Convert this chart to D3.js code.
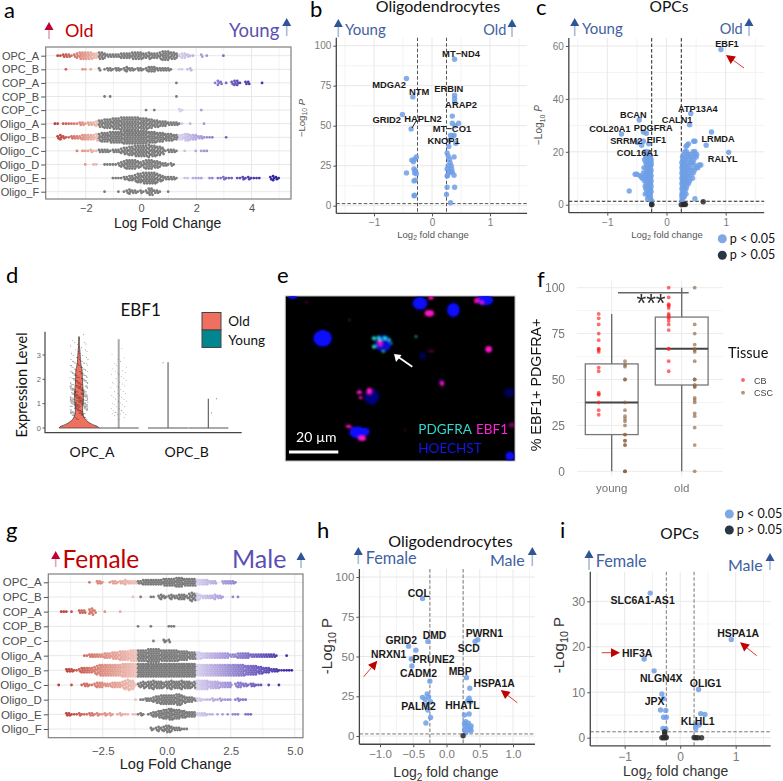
<!DOCTYPE html>
<html><head><meta charset="utf-8">
<script src="https://cdnjs.cloudflare.com/ajax/libs/d3/7.8.5/d3.min.js"></script>
<style>html,body{margin:0;background:#fff}svg{display:block}text{font-family:"Liberation Sans",Arial,sans-serif}</style>
</head><body><div id="c"></div>
<script>
/* ---------- categories ---------- */
const rows=["OPC_A","OPC_B","COP_A","COP_B","COP_C","Oligo_A","Oligo_B","Oligo_C","Oligo_D","Oligo_E","Oligo_F"];

/* ---------- panel a: swarm counts per 0.1 log-fold-change bin, from = first bin ---------- */
const aFrom=[-3.0,-2.7,1.3,-1.3,0.2,-3.1,-3.0,-2.3,-2.0,-1.0,-1.3];
const aOPC_A=[1,1,2,2,2,1,2,3,4,4,4,4,4,3,3,4,4,3,2,2,2,2,2,3,3,3,3,4,4,4,4,3,3,4,3,3,3,4,5,5,5,4,4,3,2,3,3,2,1,1,0,0,2,0,1,0,0,0,0,0,1];
const aOPC_B=[1,0,0,0,0,0,1,1,0,1,0,0,2,0,1,2,2,1,2,2,1,2,3,2,2,1,2,2,1,2,3,3,3,2,2,2,2,2,1,0,0,1,1,0,1,2];
const aCOP_A=[1,0,0,0,0,0,0,0,0,0,0,0,0,0,1,3,2,0,1,0,2,3,3,1,0,2,2,0,0,0,0,1];
const aCOP_B=[1,0,1,0,0,0,0,0,0,0,0,0,0,0,0,0,0,0,0,0,0,0,0,0,0,0,1];
const aCOP_C=[1,0,0,1,0,0,0,0,0,0,0,0,2,1,0,0,0,0,0,0,1];
const aOligo_A=[1,1,0,1,1,1,1,1,1,2,2,1,2,2,2,3,4,4,5,5,5,6,6,6,7,7,7,7,7,7,7,6,6,6,5,5,4,4,3,3,3,2,2,2,2,1,1,0,0,1,0,0,0,0,1];
const aOligo_B=[2,3,2,1,1,2,2,2,2,3,3,3,3,3,4,4,5,5,5,6,6,6,6,6,7,7,7,7,7,7,7,7,7,6,6,6,5,5,5,4,4,4,3,3,3,3,4,4,3,3,3,2,2,1,1,1,1,0,0,0,0,1];
const aOligo_C=[1,0,1,1,1,2,1,1,2,2,2,2,1,2,2,2,3,4,4,5,5,6,6,6,6,6,7,6,6,5,5,4,1,2,2,2,1,0,0,1,0,0,0,1,0,1,1,1];
const aOligo_D=[1,0,0,1,1,0,0,1,1,1,1,1,2,3,4,5,5,5,5,4,3,4,5,5,5,4,4,3,2,2,1,2,1];
const aOligo_E=[1,1,1,1,2,2,3,3,4,5,5,6,6,6,6,6,5,4,3,2,2,2,2,1,0,0,1,1,0,1,1,1,1,0,0,1,1,0,1,1,2,1,1,1,0,1,1,2,1,2,1,1,1,1,0,0,0,2,3,2,1];
const aOligo_F=[1,0,0,0,0,1,0,1,2,3,2,2,1,2,1,2,4,4,2,2,1,0,0,1];
const aRows=[aOPC_A,aOPC_B,aCOP_A,aCOP_B,aCOP_C,aOligo_A,aOligo_B,aOligo_C,aOligo_D,aOligo_E,aOligo_F];
const aTicks=[-2,0,2,4];

/* ---------- panel g ---------- */
const gFrom=[-3.0,-1.3,-4.1,-1.1,-0.5,-3.2,-3.9,-4.2,-1.2,-3.9,-0.6];
const gOPC_A=[1,0,0,2,2,1,0,0,1,2,2,1,2,2,3,2,2,2,2,2,2,3,3,3,3,3,3,3,3,4,4,4,4,4,5,5,5,4,4,4,4,4,3,3,3,3,3,2,2,2,0,0,2,2,2,2,2,1];
const gOPC_B=[1,0,0,1,0,0,0,1,1,0,2,3,2,1,2,3,2,2,3,3,3,2,4,5,4,4,3,2,2,2,2,2,3,2,2,1,0,0,0,1,0,1];
const gCOP_A=[1,1,1,0,1,0,0,2,2,2,0,3,4,2,0,0,0,1,0,0,0,0,0,1];
const gCOP_B=[1,0,0,0,0,1,0,0,0,0,0,0,1,1,1];
const gCOP_C=[1,0,0,0,2,1,2];
const gOligo_A=[1,1,2,2,2,2,2,2,3,3,3,4,4,4,5,5,5,5,6,6,6,6,6,6,6,7,7,7,7,7,6,6,6,6,6,6,6,5,5,5,5,4,4,4,4,4,3,3,3,3,3,3,3,3,3,3,3,2,2,2,3,3,3,3,3,2,2,2,2,2,2,2,2,2,2,1,0,0,0,1];
const gOligo_B=[2,2,2,1,1,2,3,3,3,3,3,4,5,6,6,6,6,6,6,6,6,6,7,7,7,7,7,7,7,7,7,7,7,7,7,7,7,7,7,7,7,7,7,7,7,7,7,7,7,7,7,6,6,6,6,6,6,6,6,6,6,6,6,6,6,6,6,6,6,6,5,5,5,5,5,4,4,3,3,3,2,2,2,1,1,1,1,1,1];
const gOligo_C=[1,0,0,0,0,1,0,0,0,1,2,2,1,1,2,3,3,3,2,2,2,3,3,3,3,4,5,6,5,5,1,2,3,4,3,4,4,5,4,4,4,3,4,4,5,4,4,4,5,4,4,4,3,4,5,5,5,5,5,4,4,4,4,3,3,3,3,3,0,2,3,3,2,2,1,2,2,1,1,1,0,0,1,0,0,0,1];
const gOligo_D=[1,0,1,1,2,2,2,3,4,4,5,5,5,5,5,5,6,6,5,4,3,3,3,2,2,2,1,1,1,1,2,1,1,2,1,1,1,1,0,1,2,1,1,1];
const gOligo_E=[2,2,1,1,1,2,1,1,1,2,2,1,2,1,1,2,1,2,1,0,1,2,1,1,1,0,1,1,1,2,1,0,1,2,3,3,4,4,5,5,6,6,5,5,5,4,4,3,3,3,3,2,2,2,2,1,1,1,0,1,0,1,0,1,0,1,1,1,0,0,1,1,1];
const gOligo_F=[2,1,2,3,2,3,4,4,3,2,2,2,1,1,1];
const gRows=[gOPC_A,gOPC_B,gCOP_A,gCOP_B,gCOP_C,gOligo_A,gOligo_B,gOligo_C,gOligo_D,gOligo_E,gOligo_F];
const gTicks=[-2.5,0,2.5,5];

/* ---------- volcano b ---------- */
const bPoints=[[-0.44,79.5],[-0.33,68],[-0.51,57],[-0.36,48],[-0.27,30.5],[-0.30,29],[-0.35,28.5],[-0.32,27.5],[-0.31,23],[-0.29,22],[-0.27,20],[-0.30,20.5],[-0.44,20.5],[-0.29,16],[-0.31,15.5],[-0.30,6.5],[-0.31,6.2],[0.39,91.5],[0.39,69],[0.39,67],[0.39,65],[0.35,56],[0.46,51.5],[0.35,51.5],[0.40,50],[0.32,44],[0.36,43.5],[0.38,44],[0.41,39],[0.30,41],[0.29,37],[0.26,33],[0.28,31],[0.38,30.5],[0.30,29],[0.31,27],[0.33,25],[0.28,25],[0.34,23],[0.26,23],[0.30,21.5],[0.33,21],[0.35,21],[0.27,19],[0.38,19],[0.26,18.5],[0.26,11.5],[0.39,11.5],[0.25,7],[0.32,1.8]];
const bLabels=[["MT−ND4",0.50,94.8],["MDGA2",-0.74,75.9],["NTM",-0.22,71],["ERBIN",0.29,73],["ARAP2",0.50,63],["GRID2",-0.78,53.6],["HAPLN2",-0.155,54.4],["MT−CO1",0.345,48],["KNOP1",0.20,40.6]];

/* ---------- volcano c: [y,[x...]] rows ---------- */
const cOutliers=[[0.92,58.7],[0.41,34.5],[0.39,30.2],[-0.46,32],[-0.76,26.7],[-0.39,27.5],[-0.34,27],[-0.39,24],[-0.49,23.5],[-0.42,22.5],[-0.30,23],[0.76,27.5],[0.48,24],[0.67,22.5],[1.05,19.8],[0.37,23],[0.35,22.5],[0.33,22],[-0.53,11.5],[-0.50,11.5],[-0.45,11],[-0.42,10.5],[-0.63,5.2]];
const cLeftRows=[[20,[-0.32,-0.36]],[19,[-0.29,-0.33]],[18,[-0.27,-0.31,-0.35]],[17,[-0.26,-0.28,-0.30,-0.33,-0.37]],[16,[-0.26,-0.29,-0.32,-0.35]],[15,[-0.27,-0.30,-0.33,-0.26]],[14,[-0.28,-0.31,-0.34,-0.38]],[13,[-0.26,-0.29,-0.33]],[12,[-0.27,-0.30,-0.35,-0.39]],[11,[-0.26,-0.29,-0.32,-0.36]],[10,[-0.27,-0.31,-0.35,-0.41]],[9,[-0.26,-0.29,-0.33,-0.37]],[8,[-0.27,-0.30,-0.34]],[7,[-0.26,-0.29,-0.32,-0.36]],[6,[-0.27,-0.31,-0.35]],[5,[-0.26,-0.29,-0.33]],[4,[-0.28,-0.32,-0.36]],[3,[-0.27,-0.30]],[2.2,[-0.28,-0.32]],[1.5,[-0.25]]];
const cRightRows=[[24,[0.46]],[20,[0.31,0.34,0.45,0.48]],[19,[0.29,0.36,0.40,0.47,0.51]],[18,[0.27,0.33,0.37,0.43,0.50]],[17,[0.28,0.31,0.39,0.46]],[16,[0.26,0.30,0.35,0.41,0.44]],[15,[0.27,0.32,0.38,0.47,0.55,0.58]],[14,[0.26,0.29,0.34,0.40,0.50,0.53]],[13,[0.27,0.31,0.36,0.42,0.47]],[12,[0.26,0.29,0.33,0.38,0.45]],[11,[0.27,0.30,0.35,0.41]],[10,[0.26,0.29,0.32,0.37,0.44]],[9,[0.27,0.31,0.35,0.39]],[8,[0.26,0.29,0.33,0.37]],[7,[0.27,0.30,0.34]],[6,[0.26,0.29,0.33]],[5,[0.27,0.31]],[4,[0.26,0.29,0.33]],[3,[0.26,0.30]],[2.3,[0.27,0.48]],[1.5,[0.26]]];
const cBlack=[[-0.25,0],[-0.25,0.2],[0.25,0],[0.30,0.2],[0.29,0.1],[0.32,0.1],[0.62,1.1]];
const cLabels=[["EBF1",1.02,60.8],["ATP13A4",0.53,36.4],["BCAN",-0.56,33.9],["CALN1",0.18,32.3],["PDGFRA",-0.225,29.3],["COL20A1",-0.956,28.7],["SRRM2",-0.68,24.3],["EIF1",-0.17,24.7],["LRMDA",0.87,25.1],["COL16A1",-0.49,19.5],["RALYL",0.95,17.4]];

/* ---------- volcano h ---------- */
const hPoints=[[-0.36,86.5],[-0.28,59.5],[-0.57,56.5],[-0.46,54],[-0.53,48.5],[-0.52,44],[-0.25,34.5],[-0.36,24.3],[-0.29,26.4],[-0.27,24.5],[-0.32,23],[-0.24,21.6],[-0.30,19.5],[-0.28,16.3],[-0.24,11.7],[-0.31,8.2],[0.47,60.6],[0.43,59.5],[0.30,36.7],[0.35,30],[0.34,23.7],[0.32,22.2],[0.36,21.6],[0.34,13.8],[0.27,13.2],[0.29,9],[0.33,8],[0.27,8],[0.37,6.3],[0.31,6.3],[0.28,5.9],[0.36,4.8],[0.27,3.8],[0.33,3.8],[0.29,2.1],[0.37,3.3]];
const hBlack=[[0.25,0.2]];
const hLabels=[["COL",-0.417,90],["DMD",-0.18,63.3],["PWRN1",0.57,64.8],["GRID2",-0.68,60.4],["SCD",0.335,55.2],["NRXN1",-0.87,51.1],["PRUNE2",-0.195,48.2],["CADM2",-0.42,39.4],["MBP",0.206,40.7],["HSPA1A",0.717,33.1],["PALM2",-0.42,18.4],["HHATL",0.24,19.3]];

/* ---------- volcano i ---------- */
const iPoints=[[-0.54,31.8],[0.92,21.6],[-0.65,17.3],[-0.47,14.7],[-0.33,9.6],[-0.30,8.6],[0.33,10.6],[-0.355,6.1],[-0.26,6],[-0.30,4.5],[-0.25,4.5],[0.37,5.3],[0.445,5.1],[0.34,2.8],[0.28,2.9],[0.28,2.05],[-0.31,2.05],[-0.26,1.9]];
const iBlack=[[-0.28,1.3],[-0.28,0.8],[-0.33,0],[-0.30,0],[-0.27,0],[-0.25,0.05],[0.25,0.05],[0.28,0],[0.32,0],[0.385,0]];
const iLabels=[["SLC6A1-AS1",-0.677,30.3],["HSPA1A",1.045,23],["HIF3A",-0.775,18.6],["NLGN4X",-0.342,13.05],["OLIG1",0.458,12],["JPX",-0.461,8],["KLHL1",0.314,3.6]];

/* ---------- panel d ---------- */
const violinGroups=["OPC_A","OPC_B"];
const violinOldLevels=[0,0.05,0.1,0.2,0.3,0.4,0.5,0.6,0.8,1.0,1.3,1.6,2.0,2.4,2.5,2.8,3.1,3.4,3.75];
const violinOldDensity=[1,0.95,0.8,0.55,0.38,0.28,0.22,0.19,0.18,0.2,0.22,0.2,0.17,0.15,0.12,0.07,0.05,0.02,0.015];
const violinMax=[3.65,2.7,1.2];
const dotLevelsOld=[0.5,0.7,1.0,1.3,1.6,1.9,2.2,2.5,2.8,3.1,3.4,3.7];
const dotCountsOld=[20,50,80,70,55,40,30,20,14,8,6,3];
const dotLevelsYoung=[0.5,0.7,1.0,1.3,1.6,1.9,2.2,2.5,2.8,3.1,3.4];
const dotCountsYoung=[5,10,8,8,7,7,6,4,4,1,1];

/* ---------- panel e: micrograph blobs [x,y,rx,ry,opacity] ---------- */
const blueBlobs=[[450,130,22,19,1],[550,150,19,21,1],[158,235,28,25,1],[645,120,25,16,1],[68,110,14,6,1],[305,410,22,24,.5],[262,517,24,18,1],[285,515,14,12,1],[720,588,14,13,1],[718,398,15,14,.35],[340,250,25,25,.8],[458,288,10,10,.35],[512,362,8,8,.3]];
const magentaBlobs=[[478,160,14,10,1],[483,113,8,6,1],[620,122,8,8,.9],[635,128,6,6,.9],[656,268,10,10,1],[298,393,8,10,1],[268,397,8,6,1],[272,413,5,5,1],[276,535,12,8,1],[236,499,9,5,1],[516,370,7,8,.9],[483,273,10,3,.4],[330,250,7,9,.9],[725,495,10,8,.4],[110,127,5,4,.3],[405,510,3,3,.4]];
const cyanBlobs=[[312,235,6,6,1],[325,232,5,5,1],[345,235,6,6,1],[358,240,5,5,.9],[365,250,4,3,.6],[312,260,6,6,1],[340,275,4,4,.8],[438,230,4,4,.7],[238,180,3,3,.4],[330,238,5,5,1]];

/* ---------- panel f ---------- */
const boxGroups=["young","old"];
const boxQ1=[20,47],boxMedian=[37.5,66.7],boxQ3=[58.5,84],boxLow=[0,0],boxHigh=[85.7,100];
const youngCB=[85.7,83.3,80,75,71.4,66.7,66.7,66,65,56.5,54.5,42.8,42,41.7,37.5,33.3,30.8];
const youngCSC=[60,58,57,50,50,37.5,33.3,30,28.6,27.3,25,20,20,16.7,16.7,14.3,14.3,0,0,0];
const oldCB=[100,94.7,91,90.5,90,88.9,85.7,85,84,83.3,81.8,80,76.9,66.7,66.7,60,54.5];
const oldCSC=[100,80,75,69,66.7,66,65,60,50,50,47,46,46,40,38.9,37.5,31.6,30,23.8,14.3,0];

/* ========= drawing ========= */
const W=783,H=781;
const svg=d3.select("#c").append("svg").attr("width",W).attr("height",H);
const LATO='Lato,"Open Sans",sans-serif';
const defs=svg.append("defs");
defs.append("filter").attr("id","soft").append("feGaussianBlur").attr("stdDeviation",1);
defs.append("filter").attr("id","jpeg").attr("x","-5%").attr("y","-5%").attr("width","110%").attr("height","110%").append("feGaussianBlur").attr("stdDeviation",.4);

function txt(x,y,s,o={}){
  const t=svg.append("text").attr("x",x).attr("y",y).text(s)
    .attr("font-size",o.size||12).attr("fill",o.fill||"#000")
    .attr("text-anchor",o.anchor||"start").attr("font-weight",o.weight||"normal");
  if(o.font) t.style("font-family",o.font);
  if(o.rotate) t.attr("transform",`rotate(${o.rotate} ${x} ${y})`);
  return t;
}
function upArrow(x,y0,y1,head,stem){
  svg.append("line").attr("x1",x).attr("x2",x).attr("y1",y0).attr("y2",y1+3).attr("stroke",stem).attr("stroke-width",1.6);
  svg.append("path").attr("d",d3.line()([[x-4.5,y1+8],[x+4.5,y1+8],[x,y1]])+"Z").attr("fill",head);
}
function redArrow(x0,y0,x1,y1){
  const a=Math.atan2(y1-y0,x1-x0),L=9,W2=4.5;
  const bx=x1-L*Math.cos(a),by=y1-L*Math.sin(a);
  svg.append("line").attr("x1",x0).attr("y1",y0).attr("x2",bx).attr("y2",by).attr("stroke","#d83a3a").attr("stroke-width",1);
  svg.append("path").attr("d",d3.line()([[x1,y1],[bx+W2*Math.sin(a),by-W2*Math.cos(a)],[bx-W2*Math.sin(a),by+W2*Math.cos(a)]])+"Z").attr("fill","#c00000");
}

/* panel letters */
[["a",4,18],["b",310,16.5],["c",536,15],["d",6,283],["e",277,283],["f",537,287],["g",6,538],["h",317,538],["i",560,538]]
 .forEach(d=>txt(d[1],d[2],d[0],{size:22,font:LATO}));

/* swarm panels */
function swarm(cfg){
  const x=d3.scaleLinear().domain(cfg.dom).range([cfg.l,cfg.r]);
  const y=d3.scalePoint().domain(rows).range(cfg.rowR);
  const g=svg.append("g");
  cfg.minor.forEach(v=>g.append("line").attr("x1",x(v)).attr("x2",x(v)).attr("y1",cfg.t).attr("y2",cfg.b).attr("stroke","#f3f3f3"));
  cfg.ticks.forEach(v=>g.append("line").attr("x1",x(v)).attr("x2",x(v)).attr("y1",cfg.t).attr("y2",cfg.b).attr("stroke","#e8e8e8"));
  rows.forEach(r=>g.append("line").attr("x1",cfg.l).attr("x2",cfg.r).attr("y1",y(r)).attr("y2",y(r)).attr("stroke","#e8e8e8"));
  const colL=d3.scaleLinear().domain(cfg.leftDom).range(["#efc3ba","#dd8a7e","#b93a34"]).clamp(true);
  const colR=d3.scaleLinear().domain(cfg.rightDom).range(["#d9d0ee","#9e8ed4","#5a49b6","#2d22a0"]).clamp(true);
  const dots=g.append("g").attr("filter","url(#jpeg)");
  cfg.data.forEach((arr,ri)=>{
    arr.forEach((n,i)=>{
      const lfc=cfg.from[ri]+i*0.1;
      const col=lfc<cfg.thr[0]?colL(lfc):lfc>cfg.thr[1]?colR(lfc):"#7b7b7b";
      for(let k=0;k<n;k++){
        dots.append("circle").attr("cx",x(lfc)+(k%2?0.5:-0.5)).attr("cy",y(rows[ri])+(k-(n-1)/2)*2.05)
          .attr("r",1.4).attr("fill",col);
      }
    });
  });
  g.append("rect").attr("x",cfg.l).attr("y",cfg.t).attr("width",cfg.r-cfg.l).attr("height",cfg.b-cfg.t).attr("fill","none").attr("stroke","#7f7f7f").attr("stroke-width",1.2);
  const ax=g.append("g").attr("transform",`translate(0,${cfg.b})`).call(d3.axisBottom(x).tickValues(cfg.ticks).tickFormat(cfg.fmt).tickSize(0).tickPadding(cfg.pad));
  ax.select(".domain").remove();
  ax.selectAll("text").attr("font-size",cfg.tickSize).attr("fill","#555").style("font-family",'"Liberation Sans"');
  const ay=g.append("g").attr("transform",`translate(${cfg.l},0)`).call(d3.axisLeft(y).tickSize(4.5).tickPadding(2));
  ay.select(".domain").remove();
  ay.selectAll("line").attr("stroke","#555");
  ay.selectAll("text").attr("font-size",cfg.labSize).attr("fill","#4d4d4d").style("font-family",'"Liberation Sans"');
}
swarm({dom:[-3.45,5.43],l:45.7,r:291,t:47,b:199,rowR:[55.7,191.7],data:aRows,from:aFrom,thr:[-1.5,1.4],
  leftDom:[-1.5,-2.2,-3.1],rightDom:[1.4,2.4,3.6,5],ticks:aTicks,minor:[-3,-1,1,3,5],fmt:d3.format("d"),pad:5.5,tickSize:11,labSize:11});
swarm({dom:[-4.625,5.32],l:48.3,r:303,t:574,b:737.7,rowR:[582.3,729],data:gRows,from:gFrom,thr:[-1.15,1.15],
  leftDom:[-1.15,-2.6,-4.1],rightDom:[1.15,2.5,4,5],ticks:gTicks,minor:[-3.75,-1.25,1.25,3.75],fmt:d3.format(".1f"),pad:9,tickSize:11.5,labSize:11.5});
txt(167.7,228,"Log Fold Change",{size:14,anchor:"middle",fill:"#222"});
txt(175.7,769,"Log Fold Change",{size:14.6,anchor:"middle",fill:"#222"});

upArrow(49,39,22,"#c00030","#e8a0b0");
txt(65,36.5,"Old",{size:18,font:LATO,fill:"#c00000"});
txt(229,36.5,"Young",{size:18.5,font:LATO,fill:"#5a4fb5"});
upArrow(286.7,36,18,"#2f5597","#a9bad8");
upArrow(55.7,567,551,"#c00030","#e8a0b0");
txt(62.5,568,"Female",{size:24.5,font:LATO,fill:"#c00000"});
txt(232,568,"Male",{size:25,font:LATO,fill:"#5a4fb5"});
upArrow(301,568,552,"#2f5597","#a9bad8");

/* volcano panels */
function volcano(cfg){
  const x=d3.scaleLinear().domain(cfg.xDom).range(cfg.xR);
  const y=d3.scaleLinear().domain(cfg.yDom).range(cfg.yR);
  const g=svg.append("g");
  const L=x(cfg.xLim[0]),R=x(cfg.xLim[1]),B=y(cfg.yLim[0]),T=y(cfg.yLim[1]);
  cfg.xMinor.forEach(v=>g.append("line").attr("x1",x(v)).attr("x2",x(v)).attr("y1",T).attr("y2",B).attr("stroke","#f3f3f3"));
  cfg.yMinor.forEach(v=>g.append("line").attr("x1",L).attr("x2",R).attr("y1",y(v)).attr("y2",y(v)).attr("stroke","#f3f3f3"));
  cfg.xTicks.forEach(v=>g.append("line").attr("x1",x(v)).attr("x2",x(v)).attr("y1",T).attr("y2",B).attr("stroke","#e8e8e8"));
  cfg.yTicks.forEach(v=>g.append("line").attr("x1",L).attr("x2",R).attr("y1",y(v)).attr("y2",y(v)).attr("stroke","#e8e8e8"));
  [-0.25,0.25].forEach(v=>g.append("line").attr("x1",x(v)).attr("x2",x(v)).attr("y1",T).attr("y2",B).attr("stroke",cfg.dash).attr("stroke-dasharray","3.5 2").attr("stroke-width",1));
  g.append("line").attr("x1",L).attr("x2",R).attr("y1",y(1.3)).attr("y2",y(1.3)).attr("stroke",cfg.dash).attr("stroke-dasharray","3.5 2");
  g.selectAll(".p").data(cfg.points).enter().append("circle").attr("cx",d=>x(d[0])).attr("cy",d=>y(d[1])).attr("r",2.7).attr("fill","#6f9fe6").attr("fill-opacity",.85);
  g.selectAll(".b").data(cfg.black).enter().append("circle").attr("cx",d=>x(d[0])).attr("cy",d=>y(d[1])).attr("r",2.7).attr("fill","#2b2b2b").attr("fill-opacity",.85);
  const ax=g.append("g").attr("transform",`translate(0,${B})`).call(d3.axisBottom(x).tickValues(cfg.xTicks).tickFormat(cfg.fmt).tickSize(3).tickPadding(cfg.xPad));
  const ay=g.append("g").attr("transform",`translate(${L},0)`).call(d3.axisLeft(y).tickValues(cfg.yTicks).tickFormat(d3.format("d")).tickSize(3).tickPadding(2));
  ax.select(".domain").attr("d",`M${L},0H${R}`);ay.select(".domain").attr("d",`M0,${B}V${T}`);
  [ax,ay].forEach(a=>{a.select(".domain").attr("stroke","#444").attr("stroke-width",1.3);a.selectAll("line").attr("stroke","#555");
    a.selectAll("text").attr("font-size",cfg.tick).attr("fill","#7a7a7a").style("font-family",'"Liberation Sans"');});
  g.selectAll(".l").data(cfg.labels).enter().append("text").attr("x",d=>x(d[1])).attr("y",d=>y(d[2])+cfg.label*0.36).text(d=>d[0])
    .attr("text-anchor","middle").attr("font-size",cfg.label).attr("font-weight","bold").attr("fill","#1a1a1a");
}
const fmt1=d=>d3.format(".1f")(d);
const fmt0=d=>d===0?"0":(d<0?"−":"")+Math.abs(d);
volcano({xDom:[-1,1],xR:[374,490],yDom:[0,100],yR:[205.7,45.7],xLim:[-1.65,1.64],yLim:[-4.8,105],xTicks:[-1,0,1],xMinor:[-1.5,-0.5,0.5,1.5],yTicks:[0,25,50,75,100],yMinor:[12.5,37.5,62.5,87.5],
  points:bPoints,black:[],labels:bLabels,fmt:fmt0,xPad:3,tick:10,label:9.4,dash:"#555"});
volcano({xDom:[-1,1],xR:[607.3,725.7],yDom:[0,60],yR:[204.7,46],xLim:[-1.65,1.65],yLim:[-3,63],xTicks:[-1,0,1],xMinor:[-1.5,-0.5,0.5,1.5],yTicks:[0,20,40,60],yMinor:[10,30,50],
  points:cOutliers.concat(...cLeftRows.map(r=>r[1].map(v=>[v,r[0]])),...cRightRows.map(r=>r[1].map(v=>[v,r[0]]))),black:cBlack,labels:cLabels,fmt:fmt0,xPad:3,tick:10,label:9.2,dash:"#222"});
volcano({xDom:[-1,1],xR:[380,513],yDom:[0,100],yR:[736,577],xLim:[-1.31,1.33],yLim:[-5.2,105],xTicks:[-1,-0.5,0,0.5,1],xMinor:[-1.25,-0.75,-0.25,0.25,0.75,1.25],yTicks:[0,25,50,75,100],yMinor:[12.5,37.5,62.5,87.5],
  points:hPoints,black:hBlack,labels:hLabels,fmt:fmt1,xPad:3,tick:11.5,label:10.4,dash:"#777"});
volcano({xDom:[-1,1],xR:[624.7,735.7],yDom:[0,30],yR:[737.7,601.3],xLim:[-1.62,1.63],yLim:[-1.8,36.5],xTicks:[-1,0,1],xMinor:[-1.5,-0.5,0.5,1.5],yTicks:[0,10,20,30],yMinor:[5,15,25],
  points:iPoints,black:iBlack,labels:iLabels,fmt:d=>d3.format("d")(d),xPad:3.5,tick:12,label:10.5,dash:"#777"});
svg.append("line").attr("x1",416.7).attr("y1",120).attr("x2",412).attr("y2",128).attr("stroke","#222");

function logLabel(x,y,pre,sub,post,size,fill,rot,italic){
  const t=txt(x,y,pre,{size,fill,anchor:"middle",rotate:rot});
  t.append("tspan").attr("font-size",size*.72).attr("dy",size*.25).text(sub);
  const p=t.append("tspan").attr("dy",-size*.25).text(" ");
  const q=t.append("tspan").text(post);
  if(italic) q.attr("font-style","italic");
}
logLabel(433,238,"Log","2","fold change",9.5,"#555",0);
logLabel(667,238,"Log","2","fold change",9.5,"#555",0);
logLabel(446,777,"Log","2","fold change",14,"#333",0);
logLabel(675.7,776,"Log","2","fold change",14,"#333",0);
logLabel(305,118,"−Log","10","P",9.5,"#555",-90,true);
logLabel(542,125,"−Log","10","P",10,"#555",-90,true);
logLabel(332,646,"-Log","10","P",15,"#333",-90);
logLabel(564,645,"-Log","10","P",15,"#333",-90);

const BLUE="#3f5f9f";
txt(438,12,"Oligodendrocytes",{size:16,font:LATO,anchor:"middle",fill:"#111"});
txt(669,12,"OPCs",{size:15.5,font:LATO,anchor:"middle",fill:"#111"});
txt(450.5,546.7,"Oligodendrocytes",{size:16,font:LATO,anchor:"middle",fill:"#111"});
txt(679.7,539.3,"OPCs",{size:15.5,font:LATO,anchor:"middle",fill:"#111"});
txt(345,35,"Young",{size:15,font:LATO,fill:BLUE});txt(483.3,35,"Old",{size:14.5,font:LATO,fill:BLUE});
upArrow(338.3,37,19,"#2f5597","#a9bad8");upArrow(512,37,19,"#2f5597","#a9bad8");
txt(582,34,"Young",{size:15,font:LATO,fill:BLUE});txt(719.7,34,"Old",{size:14.5,font:LATO,fill:BLUE});
upArrow(574.7,36,18,"#2f5597","#a9bad8");upArrow(749,36,18,"#2f5597","#a9bad8");
txt(365.7,564.3,"Female",{size:16.3,font:LATO,fill:BLUE});txt(490,566,"Male",{size:16,font:LATO,fill:BLUE});
upArrow(358.3,564,547,"#2f5597","#a9bad8");upArrow(532.3,566,547,"#2f5597","#a9bad8");
txt(595.7,567.3,"Female",{size:16.3,font:LATO,fill:BLUE});txt(728,570.7,"Male",{size:16,font:LATO,fill:BLUE});
upArrow(589,570,550,"#2f5597","#a9bad8");upArrow(770,570,553,"#2f5597","#a9bad8");

redArrow(744,68,726,55);redArrow(363.7,676.7,377.3,660.7);redArrow(517.3,702.7,500.7,690);redArrow(601.7,652.7,620,652.7);redArrow(756.7,655.7,740,642.3);

function pLegend(cx,y1,y2){
  svg.append("circle").attr("cx",cx).attr("cy",y1).attr("r",4.5).attr("fill","#7fa9e6");
  svg.append("circle").attr("cx",cx).attr("cy",y2).attr("r",4.5).attr("fill","#2a3548");
  txt(cx+7.5,y1+4,"p < 0.05",{size:12.5,font:LATO,fill:"#111"});
  txt(cx+7.5,y2+3.5,"p > 0.05",{size:12.5,font:LATO,fill:"#111"});
}
pLegend(722.3,238.7,255.3);
pLegend(729.3,514,530);

/* panel d */
(function(){
  const y=d3.scaleLinear().domain([0,3]).range([428,355]);
  const x=d3.scaleBand().domain(violinGroups).range([45,241.7]);
  const dens=d3.scaleLinear().domain([0,1]).range([0,20]);
  const cxA=x("OPC_A")+34,cxAy=x("OPC_A")+73.7,cxB=x("OPC_B")+24.7,cxBy=x("OPC_B")+65;
  const area=c=>d3.area().x0(d=>c-dens(d[1])).x1(d=>c+dens(d[1])).y(d=>y(d[0])).curve(d3.curveCatmullRom);
  const old=violinOldLevels.map((l,i)=>[l,violinOldDensity[i]]);
  svg.append("path").attr("d",area(cxA)(old)+"Z").attr("fill","#f0705f").attr("stroke","#444").attr("stroke-width",.8);
  [[cxAy,violinMax[0],"#aaa",2],[cxB,violinMax[1],"#666",1.2],[cxBy,violinMax[2],"#666",1.2]].forEach(d=>{
    svg.append("line").attr("x1",d[0]).attr("x2",d[0]).attr("y1",y(0)).attr("y2",y(d[1])).attr("stroke",d[2]).attr("stroke-width",d[3]);
    svg.append("line").attr("x1",d[0]-dens(1)).attr("x2",d[0]+dens(1)).attr("y1",y(0)).attr("y2",y(0)).attr("stroke","#555").attr("stroke-width",1);
  });
  const phi=0.618034,psi=0.754878;
  function jitter(levels,counts,c,spread,alpha,r){
    let s=0;
    levels.forEach((l,i)=>{for(let k=0;k<counts[i];k++){s++;
      const u=(s*phi)%1,v=(s*psi)%1;
      svg.append("circle").attr("cx",c+(u-.5)*2*spread).attr("cy",y(l+(v-.5)*.3)).attr("r",r).attr("fill","#111").attr("fill-opacity",alpha);
    }});
  }
  jitter(dotLevelsOld,dotCountsOld,cxA,9,.75,.45);
  jitter(dotLevelsYoung,dotCountsYoung,cxAy,8,.65,.4);
  [[cxB-5,2.68],[cxBy+8,1.2],[cxBy+3,0.62]].forEach(d=>svg.append("circle").attr("cx",d[0]).attr("cy",y(d[1])).attr("r",.5).attr("fill","#555"));
  svg.append("path").attr("d","M45,331.7V432.7H241.7").attr("fill","none").attr("stroke","#444").attr("stroke-width",1.2);
  y.ticks(4).filter(t=>t%1===0).forEach(t=>{
    svg.append("line").attr("x1",42.5).attr("x2",45).attr("y1",y(t)).attr("y2",y(t)).attr("stroke","#555");
    txt(41,y(t)+2.6,t,{size:7.5,fill:"#666",anchor:"end"});
  });
  txt(92,456.7,"OPC_A",{size:14,font:LATO,anchor:"middle",fill:"#111"});
  txt(186.7,456.7,"OPC_B",{size:14,font:LATO,anchor:"middle",fill:"#111"});
  txt(140.7,316,"EBF1",{size:17,font:LATO,anchor:"middle",fill:"#111"});
  txt(27,385,"Expression Level",{size:14.5,font:LATO,anchor:"middle",fill:"#111",rotate:-90});
  svg.append("rect").attr("x",202).attr("y",312.5).attr("width",19).attr("height",17.5).attr("fill","#f0705f").attr("stroke","#444").attr("stroke-width",1);
  svg.append("rect").attr("x",202).attr("y",330).attr("width",19).attr("height",17.5).attr("fill","#00868f").attr("stroke","#444").attr("stroke-width",1);
  txt(228.3,326,"Old",{size:13.5,font:LATO,fill:"#111"});
  txt(228.3,344.5,"Young",{size:13.5,font:LATO,fill:"#111"});
})();

/* panel e */
(function(){
  const ix=d3.scaleLinear().domain([46,735]).range([285.3,515]);
  const iy=d3.scaleLinear().domain([108,603]).range([296,461]);
  const clipId="imgclip";
  defs.append("clipPath").attr("id",clipId).append("rect").attr("x",285.3).attr("y",296).attr("width",229.7).attr("height",165);
  svg.append("rect").attr("x",285.3).attr("y",296).attr("width",229.7).attr("height",165).attr("fill","#000").attr("stroke","#bbb");
  const g=svg.append("g").attr("clip-path",`url(#${clipId})`);
  const f=g.append("g").attr("filter","url(#soft)");
  const draw=(arr,c)=>f.selectAll(null).data(arr).enter().append("ellipse").attr("cx",d=>ix(d[0])).attr("cy",d=>iy(d[1])).attr("rx",d=>d[2]/3).attr("ry",d=>d[3]/3).attr("fill",c).attr("opacity",d=>d[4]);
  draw(blueBlobs,"#0a0aff");draw(magentaBlobs,"#ff12c8");draw(cyanBlobs,"#25e6d8");
  const tipx=ix(372),tipy=iy(282),tailx=ix(427),taily=iy(320);
  g.append("line").attr("x1",tailx).attr("y1",taily).attr("x2",ix(386)).attr("y2",iy(292)).attr("stroke","#fff").attr("stroke-width",1.8);
  g.append("path").attr("d",`M${tipx},${tipy}L${ix(395)},${iy(285)}L${ix(378)},${iy(306)}Z`).attr("fill","#fff");
  g.append("line").attr("x1",ix(57)).attr("x2",ix(205)).attr("y1",iy(576)).attr("y2",iy(576)).attr("stroke","#fff").attr("stroke-width",3);
  txt(ix(139),iy(545),"20 µm",{size:14,font:LATO,fill:"#fff",anchor:"middle"});
  txt(ix(445),iy(522),"PDGFRA",{size:13.5,font:LATO,fill:"#2fd8cf"});
  txt(ix(618),iy(522),"EBF1",{size:13.5,font:LATO,fill:"#ff20d8"});
  txt(ix(445),iy(580),"HOECHST",{size:13.5,font:LATO,fill:"#1414ee"});
})();

/* panel f */
(function(){
  const y=d3.scaleLinear().domain([0,100]).range([471.3,287.7]);
  const x=d3.scalePoint().domain(boxGroups).range([611.7,681.7]);
  const L=577,R=723;
  [12.5,37.5,62.5,87.5].forEach(v=>svg.append("line").attr("x1",L).attr("x2",R).attr("y1",y(v)).attr("y2",y(v)).attr("stroke","#f4f4f4"));
  [0,25,50,75,100].forEach(v=>svg.append("line").attr("x1",L).attr("x2",R).attr("y1",y(v)).attr("y2",y(v)).attr("stroke","#ececec"));
  boxGroups.forEach(g=>svg.append("line").attr("x1",x(g)).attr("x2",x(g)).attr("y1",y(104)).attr("y2",y(-3)).attr("stroke","#ececec"));
  const hw=26.4;
  boxGroups.forEach((g,i)=>{
    const c=x(g);
    svg.append("line").attr("x1",c).attr("x2",c).attr("y1",y(boxHigh[i])).attr("y2",y(boxQ3[i])).attr("stroke","#666").attr("stroke-width",1.3);
    svg.append("line").attr("x1",c).attr("x2",c).attr("y1",y(boxQ1[i])).attr("y2",y(boxLow[i])).attr("stroke","#666").attr("stroke-width",1.3);
    svg.append("rect").attr("x",c-hw).attr("width",hw*2).attr("y",y(boxQ3[i])).attr("height",y(boxQ1[i])-y(boxQ3[i])).attr("fill","none").attr("stroke","#777").attr("stroke-width",1.3);
    svg.append("line").attr("x1",c-hw).attr("x2",c+hw).attr("y1",y(boxMedian[i])).attr("y2",y(boxMedian[i])).attr("stroke","#444").attr("stroke-width",2);
  });
  const pts=(arr,cx,c)=>svg.selectAll(null).data(arr).enter().append("circle").attr("cx",cx).attr("cy",d=>y(d)).attr("r",1.9).attr("fill",c).attr("fill-opacity",.65);
  pts(youngCB,x("young")-13,"#ff2020");pts(youngCSC,x("young")+13.3,"#8e6240");
  pts(oldCB,x("old")-13,"#ff2020");pts(oldCSC,x("old")+13,"#8e6240");
  svg.append("line").attr("x1",618).attr("x2",688.7).attr("y1",292.7).attr("y2",292.7).attr("stroke","#666").attr("stroke-width",1.6);
  txt(651,312,"***",{size:25,anchor:"middle",fill:"#333"});
  [0,25,50,75,100].forEach(v=>txt(565,y(v)+4.2,v,{size:12,fill:"#777",anchor:"end"}));
  boxGroups.forEach(g=>txt(x(g),492,g,{size:11.5,fill:"#777",anchor:"middle"}));
  txt(541,385,"% EBF1+ PDGFRA+",{size:14.3,anchor:"middle",fill:"#111",rotate:-90});
  txt(728,358,"Tissue",{size:14.5,font:LATO,fill:"#111"});
  svg.append("circle").attr("cx",743).attr("cy",380).attr("r",1.9).attr("fill","#ff2020").attr("fill-opacity",.7);
  svg.append("circle").attr("cx",743).attr("cy",392.7).attr("r",1.9).attr("fill","#8e6240").attr("fill-opacity",.7);
  txt(754,383.5,"CB",{size:9,fill:"#444"});
  txt(754,396,"CSC",{size:9,fill:"#444"});
})();
</script></body></html>
